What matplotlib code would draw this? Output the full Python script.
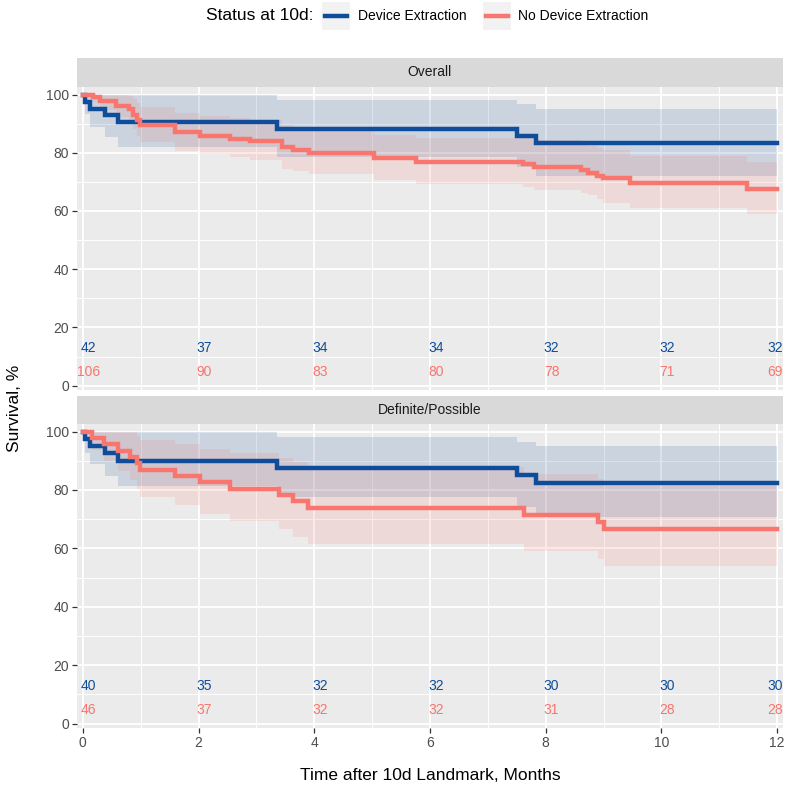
import matplotlib
matplotlib.use("Agg")
import matplotlib.pyplot as plt
from matplotlib.patches import Rectangle
from matplotlib.lines import Line2D

plt.rcParams['font.family'] = ['Liberation Sans', 'DejaVu Sans']

# ---------------- data ----------------
groups = ["Device Extraction", "No Device Extraction"]
panels = ["Overall", "Definite/Possible"]
risk_times = [0, 2, 4, 6, 8, 10, 12]

# Overall - Device Extraction
ov_dev_t = [0, 0.03, 0.12, 0.38, 0.61, 3.36, 7.50, 7.83]
ov_dev_s = [100, 97.6, 95.2, 92.9, 90.5, 88.1, 85.7, 83.3]
ov_dev_lo = [100, 93.3, 89.0, 85.4, 81.9, 78.5, 75.1, 72.0]
ov_dev_hi = [100, 100, 100, 100, 99.7, 98.3, 96.8, 95.1]

# Overall - No Device Extraction
ov_no_t = [0, 0.18, 0.29, 0.58, 0.79, 0.87, 0.93, 0.99, 1.59, 2.03, 2.55, 2.89,
           3.44, 3.64, 3.91, 5.03, 5.75, 7.60, 7.80, 8.61, 8.73, 8.88, 8.99, 9.45, 11.47]
ov_no_s = [100, 99.1, 97.7, 96.0, 95.0, 93.0, 91.3, 89.7, 87.1, 85.8, 84.8, 83.9,
           81.9, 81.0, 79.9, 78.2, 77.0, 76.0, 75.1, 74.0, 73.0, 72.0, 71.2, 69.6, 67.4]
ov_no_lo = [100, 97.3, 94.8, 92.3, 91.0, 88.2, 85.9, 83.8, 80.5, 79.5, 78.5, 77.6,
            74.5, 73.6, 72.8, 70.5, 69.4, 68.2, 67.3, 66.3, 65.4, 64.2, 62.9, 61.0, 59.1]
ov_no_hi = [100, 100, 100, 100, 99.6, 98.6, 97.2, 95.9, 93.5, 92.5, 91.8, 91.1,
            89.5, 88.7, 87.8, 86.0, 85.0, 85.5, 84.5, 83.5, 82.5, 81.5, 80.8, 78.9, 77.0]

# Definite/Possible - Device Extraction
dp_dev_t = [0, 0.03, 0.12, 0.38, 0.61, 3.36, 7.50, 7.83]
dp_dev_s = [100, 97.5, 95.0, 92.5, 90.0, 87.5, 85.0, 82.5]
dp_dev_lo = [100, 92.8, 88.8, 84.8, 81.4, 77.6, 74.2, 70.7]
dp_dev_hi = [100, 100, 100, 100, 99.8, 98.3, 96.6, 94.9]

# Definite/Possible - No Device Extraction
dp_no_t = [0, 0.16, 0.37, 0.61, 0.81, 0.93, 0.99, 1.59, 2.03, 2.55, 3.39, 3.64, 3.90, 7.62, 8.90, 9.00]
dp_no_s = [100, 97.8, 95.7, 93.5, 91.3, 89.1, 87.0, 84.8, 82.6, 80.4, 78.3, 76.1, 73.9, 71.4, 68.9, 66.5]
dp_no_lo = [100, 93.6, 89.9, 86.6, 83.4, 80.5, 77.6, 74.9, 71.9, 69.4, 66.5, 64.0, 61.6, 59.1, 56.5, 53.9]
dp_no_hi = [100, 100, 100, 100, 99.9, 98.6, 97.0, 95.7, 93.9, 92.5, 91.1, 89.5, 88.0, 85.6, 83.7, 81.3]

# numbers at risk
ov_dev_risk = [42, 37, 34, 34, 32, 32, 32]
ov_no_risk = [106, 90, 83, 80, 78, 71, 69]
dp_dev_risk = [40, 35, 32, 32, 30, 30, 30]
dp_no_risk = [46, 37, 32, 32, 31, 28, 28]

# ---------------- style ----------------
BLUE = "#0F4D9A"
RED = "#F8766D"
colors = [BLUE, RED]
T_END = 12

W, H = 785, 788
fig = plt.figure(figsize=(W / 100, H / 100), dpi=100)
fig.patch.set_facecolor("white")

def fx(px):
    return px / W

def fy(py):
    return 1 - py / H

panel_boxes = [(87, 390), (424, 728)]
strip_boxes = [(58, 87), (396, 424)]
PL, PR = 77, 783

panel_data = [
    [(ov_dev_t, ov_dev_s, ov_dev_lo, ov_dev_hi, ov_dev_risk),
     (ov_no_t, ov_no_s, ov_no_lo, ov_no_hi, ov_no_risk)],
    [(dp_dev_t, dp_dev_s, dp_dev_lo, dp_dev_hi, dp_dev_risk),
     (dp_no_t, dp_no_s, dp_no_lo, dp_no_hi, dp_no_risk)],
]

XLIM = (-0.1, 12.1)
YLIM = (-1.5, 102.6)

for i, name in enumerate(panels):
    top, bot = panel_boxes[i]
    ax = fig.add_axes([fx(PL), fy(bot), fx(PR) - fx(PL), fy(top) - fy(bot)])
    ax.set_facecolor("#EBEBEB")
    for sp in ax.spines.values():
        sp.set_visible(False)
    ax.set_xlim(*XLIM)
    ax.set_ylim(*YLIM)
    ax.set_xticks(risk_times)
    ax.set_xticks([1, 3, 5, 7, 9, 11], minor=True)
    ax.set_yticks([0, 20, 40, 60, 80, 100])
    ax.set_yticks([10, 30, 50, 70, 90], minor=True)
    ax.grid(which="major", color="white", lw=1.3)
    ax.grid(which="minor", color="white", lw=0.65)
    ax.set_axisbelow(True)
    ax.tick_params(which="minor", length=0)
    ax.tick_params(which="major", length=3.6, width=0.9, color="#333333",
                   labelcolor="#4D4D4D", labelsize=10, pad=2)
    if i == 0:
        ax.tick_params(axis="x", which="both", length=0, labelbottom=False)

    # bands first, then lines
    for g, (t, s, lo, hi, risk) in enumerate(panel_data[i]):
        tt = list(t) + [T_END]
        ax.fill_between(tt, list(lo) + [lo[-1]], list(hi) + [hi[-1]], step="post",
                        color=colors[g], alpha=0.15, lw=0, zorder=2)
    for g, (t, s, lo, hi, risk) in enumerate(panel_data[i]):
        tt = list(t) + [T_END]
        ax.step(tt, list(s) + [s[-1]], where="post", color=colors[g], lw=3.2,
                zorder=3 + g, solid_joinstyle="miter")

    # numbers at risk
    for g, (t, s, lo, hi, risk) in enumerate(panel_data[i]):
        yv = 12.9 if g == 0 else 4.6
        for rt, rv in zip(risk_times, risk):
            if rt < T_END:
                ax.text(rt + 0.1, yv, str(rv), ha="center", va="center",
                        color=colors[g], fontsize=10, zorder=6)
            else:
                ax.text(XLIM[1], yv, str(rv), ha="right", va="center",
                        color=colors[g], fontsize=10, zorder=6)

    # strip
    stop, sbot = strip_boxes[i]
    sax = fig.add_axes([fx(PL), fy(sbot), fx(PR) - fx(PL), fy(stop) - fy(sbot)])
    sax.set_facecolor("#D9D9D9")
    sax.set_xticks([])
    sax.set_yticks([])
    for sp in sax.spines.values():
        sp.set_visible(False)
    sax.text(0.5, 0.5, name, ha="center", va="center", fontsize=10,
             color="#1A1A1A", transform=sax.transAxes)

# axis titles
fig.text(fx((PL + PR) / 2), fy(776), "Time after 10d Landmark, Months",
         ha="center", va="center", fontsize=12.5, color="black")
fig.text(fx(15), fy(408), "Survival, %", ha="center", va="center",
         rotation=90, fontsize=12.5, color="black")

# legend
fig.text(fx(313), fy(16), "Status at 10d:", ha="right", va="center",
         fontsize=12.5, color="black")
key_x = [322, 483]
text_x = [358, 518]
for g, name in enumerate(groups):
    fig.patches.append(Rectangle((fx(key_x[g]), fy(30)), fx(28), 28 / H,
                                 transform=fig.transFigure, facecolor="#F2F2F2",
                                 edgecolor="none"))
    fig.lines.append(Line2D([fx(key_x[g] + 3), fx(key_x[g] + 25)], [fy(16), fy(16)],
                            transform=fig.transFigure, color=colors[g], lw=3.2))
    fig.text(fx(text_x[g]), fy(16), name, ha="left", va="center",
             fontsize=10, color="black")

fig.savefig("out.png", dpi=100, facecolor="white")
